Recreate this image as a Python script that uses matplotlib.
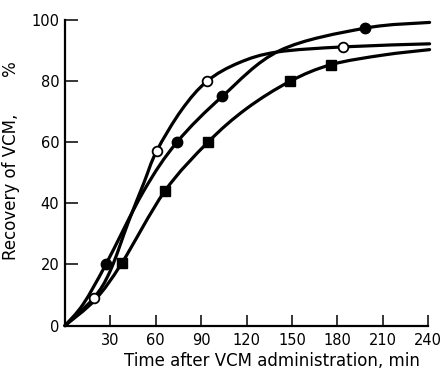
import matplotlib
matplotlib.use("Agg")
import matplotlib.pyplot as plt
from matplotlib.path import Path
from matplotlib.patches import PathPatch

# measured points (time in min, recovery in %)
open_t = [19, 60.5, 94, 184]
open_r = [9, 57, 80, 91.2]
filled_t = [27, 74, 104, 198]
filled_r = [20, 60, 75, 97.3]
square_t = [37.5, 66, 94.5, 149, 176]
square_r = [20.4, 44, 60, 80, 85.4]

# hand-drawn curves, knots
open_ct = [0, 19, 30, 42, 52, 60.5, 77, 94, 115, 140, 184, 241]
open_cr = [0, 9, 18, 34, 46.5, 57, 70.5, 80, 86, 89.5, 91.2, 92.2]
filled_ct = [0, 12, 27, 52, 74, 104, 142, 198, 241]
filled_cr = [0, 7, 20, 44, 60, 75, 90, 97.3, 99.2]
square_ct = [0, 20, 37.5, 66, 94.5, 120, 149, 176, 210, 241]
square_cr = [0, 8.5, 20.4, 44, 60, 71, 80, 85.4, 88.5, 90.3]

xticks = [30, 60, 90, 120, 150, 180, 210, 240]
yticks = [0, 20, 40, 60, 80, 100]


def smooth_path(xs, ys):
    # Catmull-Rom through the knots, drawn as cubic Bezier segments
    pts = list(zip(xs, ys))
    verts = [pts[0]]
    codes = [Path.MOVETO]
    n = len(pts)
    for i in range(n - 1):
        p0 = pts[max(i - 1, 0)]
        p1 = pts[i]
        p2 = pts[i + 1]
        p3 = pts[min(i + 2, n - 1)]
        c1 = (p1[0] + (p2[0] - p0[0]) / 6, p1[1] + (p2[1] - p0[1]) / 6)
        c2 = (p2[0] - (p3[0] - p1[0]) / 6, p2[1] - (p3[1] - p1[1]) / 6)
        verts += [c1, c2, p2]
        codes += [Path.CURVE4] * 3
    return Path(verts, codes)


fig = plt.figure(figsize=(4.45, 3.7), dpi=100)
ax = fig.add_axes([0.146, 0.12, 0.816, 0.826])

lw = 2.3
for cx, cy in [(open_ct, open_cr), (filled_ct, filled_cr), (square_ct, square_cr)]:
    patch = PathPatch(smooth_path(cx, cy), fill=False, edgecolor="black",
                      lw=lw, capstyle="round", clip_on=False, zorder=2)
    ax.add_patch(patch)

ax.plot(open_t, open_r, "o", ms=7, mfc="white", mec="black", mew=1.3, zorder=3)
ax.plot(filled_t, filled_r, "o", ms=7.5, color="black", zorder=3)
ax.plot(square_t, square_r, "s", ms=7.5, color="black", zorder=3)

ax.set_xlim(0, 240)
ax.set_ylim(0, 100)
ax.set_xticks(xticks)
ax.set_yticks(yticks)

for s in ["top", "right"]:
    ax.spines[s].set_visible(False)
for s in ["left", "bottom"]:
    ax.spines[s].set_linewidth(1.6)

ax.tick_params(axis="x", direction="in", length=8, width=1.1, pad=5, labelsize=10.5)
ax.tick_params(axis="y", direction="in", length=9, width=1.1, pad=4, labelsize=10.5)

ax.set_xlabel("Time after VCM administration, min", fontsize=12)
ax.set_ylabel("Recovery of VCM,       %", fontsize=12)
ax.xaxis.set_label_coords(0.57, -0.085)
ax.yaxis.set_label_coords(-0.125, 0.54)

fig.savefig("out.png", dpi=100)
